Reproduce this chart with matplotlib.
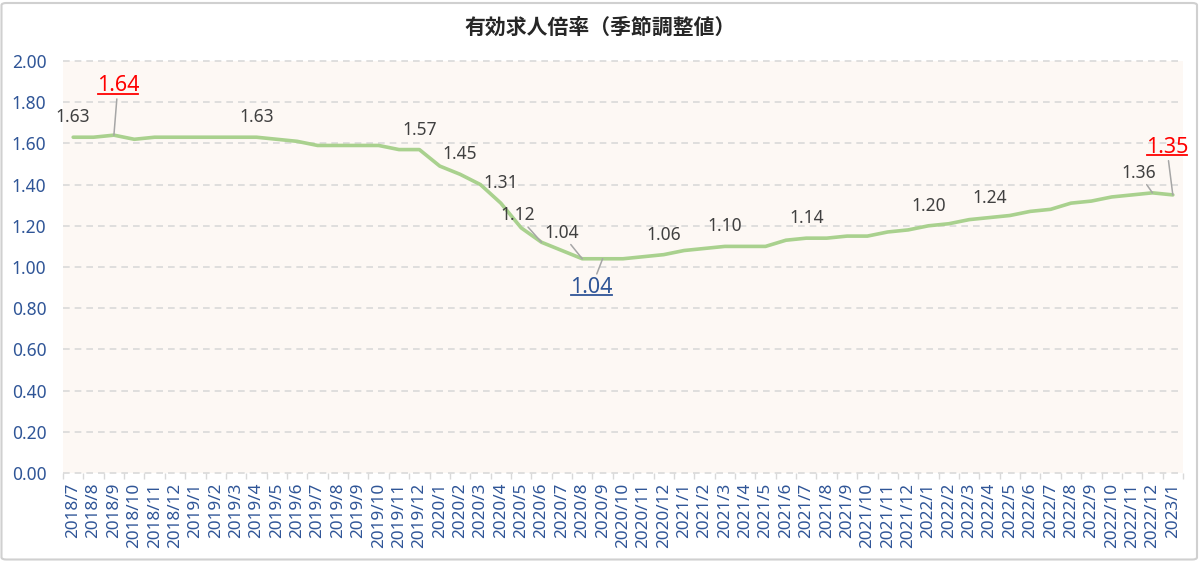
import matplotlib
matplotlib.use("Agg")
import matplotlib.pyplot as plt
from matplotlib.patches import FancyBboxPatch
from matplotlib.lines import Line2D
from matplotlib.text import Text
from matplotlib.ticker import FixedLocator

plt.rcParams['font.family'] = ['Noto Sans', 'Noto Sans CJK JP', 'DejaVu Sans']

# ---------------- data ----------------
title = "有効求人倍率（季節調整値）"
months = [
    "2018/7", "2018/8", "2018/9", "2018/10", "2018/11", "2018/12",
    "2019/1", "2019/2", "2019/3", "2019/4", "2019/5", "2019/6",
    "2019/7", "2019/8", "2019/9", "2019/10", "2019/11", "2019/12",
    "2020/1", "2020/2", "2020/3", "2020/4", "2020/5", "2020/6",
    "2020/7", "2020/8", "2020/9", "2020/10", "2020/11", "2020/12",
    "2021/1", "2021/2", "2021/3", "2021/4", "2021/5", "2021/6",
    "2021/7", "2021/8", "2021/9", "2021/10", "2021/11", "2021/12",
    "2022/1", "2022/2", "2022/3", "2022/4", "2022/5", "2022/6",
    "2022/7", "2022/8", "2022/9", "2022/10", "2022/11", "2022/12",
    "2023/1",
]
ratio = [
    1.63, 1.63, 1.64, 1.62, 1.63, 1.63,
    1.63, 1.63, 1.63, 1.63, 1.62, 1.61,
    1.59, 1.59, 1.59, 1.59, 1.57, 1.57,
    1.49, 1.45, 1.40, 1.31, 1.19, 1.12,
    1.08, 1.04, 1.04, 1.04, 1.05, 1.06,
    1.08, 1.09, 1.10, 1.10, 1.10, 1.13,
    1.14, 1.14, 1.15, 1.15, 1.17, 1.18,
    1.20, 1.21, 1.23, 1.24, 1.25, 1.27,
    1.28, 1.31, 1.32, 1.34, 1.35, 1.36,
    1.35,
]
yticks = [0.0, 0.2, 0.4, 0.6, 0.8, 1.0, 1.2, 1.4, 1.6, 1.8, 2.0]

# labelled points
plain_labels = ["2018/7", "2019/4", "2019/12", "2020/2", "2020/4",
                "2020/12", "2021/3", "2021/7", "2022/1", "2022/4"]
leader_labels = ["2020/6", "2020/8", "2022/12"]
high_labels = ["2018/9", "2023/1"]
low_labels = ["2020/9"]

# ---------------- style ----------------
W, H, DPI = 1200, 561, 100
LINE_C = "#A9D18E"
AX_BG = "#FDF8F4"
GRID_C = "#D9D9D9"
TICK_C = "#2F5597"
LAB_C = "#404040"
LEAD_C = "#A6A6A6"
RED = "#FF0000"
NUM_FONT = ['Noto Sans', 'DejaVu Sans']

# pixel offsets (dx, dy up) for labels with leader lines / emphasis
offsets = {
    "2020/6": (-24, 27), "2020/8": (-21, 26), "2022/12": (-14, 20),
    "2018/9": (4, 44), "2023/1": (-6, 42), "2020/9": (-11, -34),
}

fig = plt.figure(figsize=(W / DPI, H / DPI), dpi=DPI)
fig.patch.set_facecolor("white")
border = FancyBboxPatch((1.5 / W, 1.5 / H), 1 - 4.5 / W, 1 - 4.5 / H,
                        boxstyle="round,pad=0,rounding_size=0.004",
                        transform=fig.transFigure, fill=False,
                        edgecolor="#D0D0D0", linewidth=1.5)
fig.patches.append(border)

ax = fig.add_axes([63 / W, 1 - 473 / H, (1183 - 63) / W, (473 - 61) / H])
ax.set_facecolor(AX_BG)
x = list(range(len(months)))
ax.plot(x, ratio, color=LINE_C, linewidth=2.6, solid_joinstyle="round",
        solid_capstyle="round", zorder=3)

ax.set_xlim(-0.5, len(months) - 0.5)
ax.set_ylim(0, 2.0)
ax.set_yticks(yticks)
ax.set_yticklabels([f"{v:.2f}" for v in yticks], family=NUM_FONT)
ax.set_xticks(x)
ax.set_xticklabels(months, rotation=90, family=NUM_FONT)
ax.xaxis.set_minor_locator(FixedLocator([i - 0.5 for i in range(len(months) + 1)]))
ax.tick_params(axis="x", which="major", length=0, pad=7, labelsize=12.3,
               labelcolor=TICK_C)
ax.tick_params(axis="x", which="minor", length=4, width=1, color=GRID_C)
ax.tick_params(axis="y", length=0, pad=12, labelsize=12.5, labelcolor=TICK_C)
for lab in ax.get_xticklabels():
    lab.set_va("top")
for s in ax.spines.values():
    s.set_visible(False)
ax.grid(axis="y", color=GRID_C, linestyle=(0, (4, 3)), linewidth=1.2, zorder=1)
ax.set_axisbelow(True)
for gl in ax.yaxis.get_gridlines():
    gl.set_clip_on(False)

fig.text(0.5, 1 - 27 / H, title, ha="center", va="center", fontsize=15,
         fontweight="bold", color="#262626",
         family=['Noto Sans CJK JP', 'DejaVu Sans'])

px2pt = 72 / DPI
anns_underline = []
for m in plain_labels:
    i = months.index(m)
    ax.annotate(f"{ratio[i]:.2f}", (i, ratio[i]), xytext=(0, 20 * px2pt),
                textcoords="offset points", ha="center", va="center",
                fontsize=12.5, color=LAB_C, zorder=4, family=NUM_FONT)
for m in leader_labels:
    i = months.index(m)
    dx, dy = offsets[m]
    ax.annotate(f"{ratio[i]:.2f}", (i, ratio[i]), xytext=(dx * px2pt, dy * px2pt),
                textcoords="offset points", ha="center", va="center",
                fontsize=12.5, color=LAB_C, zorder=4, family=NUM_FONT,
                arrowprops=dict(arrowstyle="-", color=LEAD_C, lw=1.1,
                                shrinkA=0, shrinkB=0))
for m, col in [(mm, RED) for mm in high_labels] + [(mm, TICK_C) for mm in low_labels]:
    i = months.index(m)
    dx, dy = offsets[m]
    a = ax.annotate(f"{ratio[i]:.2f}", (i, ratio[i]), xytext=(dx * px2pt, dy * px2pt),
                    textcoords="offset points", ha="center", va="baseline",
                    fontsize=15.5, color=col, zorder=4, family=NUM_FONT,
                    arrowprops=dict(arrowstyle="-", color=LEAD_C, lw=1.1,
                                    shrinkA=0, shrinkB=0))
    anns_underline.append((a, col))

fig.canvas.draw()
renderer = fig.canvas.get_renderer()
inv = fig.transFigure.inverted()
for a, col in anns_underline:
    bb = Text.get_window_extent(a, renderer)
    base = ax.transData.transform(a.xy)
    yb = base[1] + (a.xyann[1] / px2pt) - 2.5
    (x0, y0), (x1, y1) = inv.transform([(bb.x0 + 1, yb), (bb.x1 - 1, yb)])
    fig.add_artist(Line2D([x0, x1], [y0, y1], color=col, linewidth=1.3,
                          transform=fig.transFigure))

fig.savefig("out.png", dpi=DPI)
